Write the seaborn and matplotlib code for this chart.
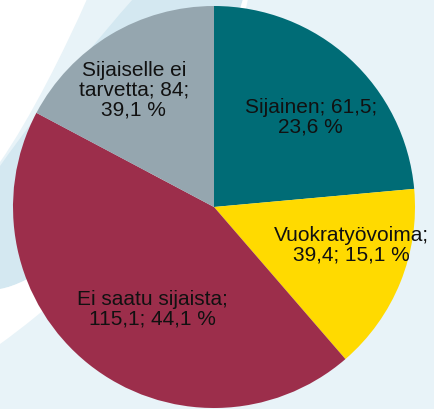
import numpy as np
import matplotlib
matplotlib.use("Agg")
import matplotlib.pyplot as plt
from matplotlib.path import Path
from matplotlib.patches import PathPatch
import seaborn as sns

names = ["Sijainen", "Vuokratyövoima", "Ei saatu sijaista", "Sijaiselle ei tarvetta"]
values = [61.5, 39.4, 115.1, 45.0]
labels = ["Sijainen; 61,5;\n23,6 %",
          "Vuokratyövoima;\n39,4; 15,1 %",
          "Ei saatu sijaista;\n115,1; 44,1 %",
          "Sijaiselle ei\ntarvetta; 84;\n39,1 %"]
colors = ["#006C76", "#FFDA00", "#9C2E4B", "#95A6AF"]

# label placement: angle offset from slice middle (deg), radius fraction
lab_shift = [-4.3, 7.0, 7.5, 3.2]
lab_rad = [0.66, 0.71, 0.59, 0.71]

sns.set_style("white")
plt.rcParams["font.family"] = ["Liberation Sans", "DejaVu Sans"]

W, H = 434, 410
fig = plt.figure(figsize=(W / 100, H / 100), dpi=100)
fig.patch.set_facecolor("#E8F3F8")

# decorative background swooshes (pixel coords, y down)
bg = fig.add_axes([0, 0, 1, 1])
bg.set_xlim(0, W)
bg.set_ylim(H, 0)
bg.axis("off")

C4, L2 = Path.CURVE4, Path.LINETO
dark = Path([(133, 0), (243, 0), (200, 150), (60, 280), (0, 290), (0, 167),
             (40, 110), (100, 37), (133, 0)],
            [Path.MOVETO, L2, C4, C4, C4, L2, C4, C4, C4])
bg.add_patch(PathPatch(dark, fc="#D4E8F1", ec="none"))
band = Path([(243, 0), (248, 0), (215, 160), (90, 280), (0, 345), (0, 290),
             (60, 280), (200, 150), (243, 0)],
            [Path.MOVETO, L2, C4, C4, C4, L2, C4, C4, C4])
bg.add_patch(PathPatch(band, fc="white", ec="none"))
corner = Path([(0, 0), (87, 0), (65, 50), (30, 120), (0, 163), (0, 0)],
              [Path.MOVETO, L2, C4, C4, C4, L2])
bg.add_patch(PathPatch(corner, fc="white", ec="none"))

# pie
ax = fig.add_axes([0, 0, 1, 1])
cx, cy, R = 214, H - 208, 201
wedges, _ = ax.pie(values, colors=sns.color_palette(colors), startangle=90,
                   counterclock=False, center=(cx, cy), radius=R,
                   wedgeprops=dict(linewidth=0))
ax.set_xlim(0, W)
ax.set_ylim(0, H)
ax.set_aspect("equal")
ax.axis("off")
ax.patch.set_alpha(0)

for w, txt, dth, fr in zip(wedges, labels, lab_shift, lab_rad):
    th = np.deg2rad((w.theta1 + w.theta2) / 2 + dth)
    ax.text(cx + fr * R * np.cos(th), cy + fr * R * np.sin(th), txt,
            ha="center", va="center", fontsize=15, color="#111111",
            linespacing=1.05)

fig.savefig("out.png", dpi=100, facecolor=fig.get_facecolor())
